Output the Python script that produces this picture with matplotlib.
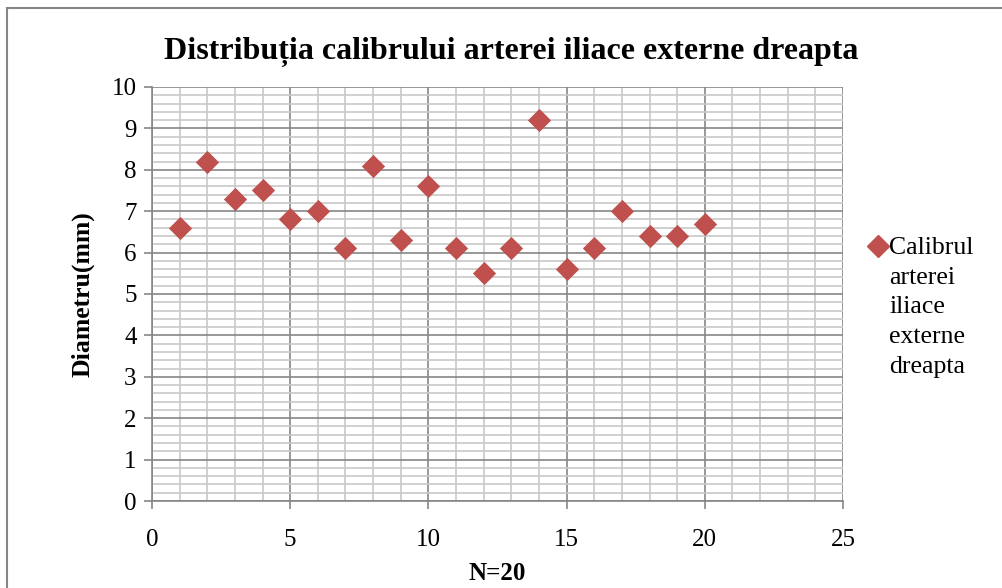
import matplotlib
matplotlib.use("Agg")
import matplotlib.pyplot as plt
from matplotlib.lines import Line2D
from matplotlib.patches import Rectangle
from matplotlib.ticker import MultipleLocator

# data
n_index = [1, 2, 3, 4, 5, 6, 7, 8, 9, 10, 11, 12, 13, 14, 15, 16, 17, 18, 19, 20]
diameter_mm = [6.6, 8.2, 7.3, 7.5, 6.8, 7.0, 6.1, 8.1, 6.3, 7.6,
               6.1, 5.5, 6.1, 9.2, 5.6, 6.1, 7.0, 6.4, 6.4, 6.7]
series_label = "Calibrul\narterei\niliace\nexterne\ndreapta"
title = "Distribuția calibrului arterei iliace externe dreapta"

MARKER_COLOR = "#C0504D"
MAJOR_GRID = "#868686"
MINOR_GRID = "#C8C8C8"

plt.rcParams["font.family"] = ["Liberation Serif", "DejaVu Serif"]

fig = plt.figure(figsize=(10.02, 5.88), dpi=100)
ax = fig.add_axes([152 / 1002, 87 / 588, 691 / 1002, 414 / 588])

ax.scatter(n_index, diameter_mm, marker="D", s=140, color=MARKER_COLOR,
           linewidths=0, zorder=3, clip_on=False)

ax.set_xlim(0, 25)
ax.set_ylim(0, 10)
ax.xaxis.set_major_locator(MultipleLocator(5))
ax.xaxis.set_minor_locator(MultipleLocator(1))
ax.yaxis.set_major_locator(MultipleLocator(1))
ax.yaxis.set_minor_locator(MultipleLocator(0.2))

ax.grid(which="minor", color=MINOR_GRID, linewidth=1.2)
ax.grid(which="major", color=MAJOR_GRID, linewidth=1.2)
ax.set_axisbelow(True)

for side in ["top", "right"]:
    ax.spines[side].set_visible(False)
for side in ["left", "bottom"]:
    ax.spines[side].set_color(MAJOR_GRID)
    ax.spines[side].set_linewidth(1.2)

ax.tick_params(which="major", direction="out", length=6, width=1.2,
               color=MAJOR_GRID, labelsize=18, pad=5)
ax.tick_params(which="minor", length=0)
ax.tick_params(axis="x", pad=14)

ax.set_xlabel("N=20", fontsize=18, fontweight="bold", labelpad=8)
ax.set_ylabel("Diametru(mm)", fontsize=18.5, fontweight="bold", labelpad=12)
# the title is centred on the whole chart box, not on the plot area
ax.set_title(title, fontsize=23, fontweight="bold", pad=20,
             x=(511 - 152) / 691)

# legend drawn by hand so the marker sits on the first line
fig.add_artist(Line2D([878 / 1002], [1 - 246 / 588], marker="D", markersize=11,
                      color=MARKER_COLOR, transform=fig.transFigure))
fig.text(889 / 1002, 1 - 237 / 588, series_label, fontsize=18.5,
         va="top", ha="left", linespacing=1.45)

# outer chart border (runs off the bottom/right of the crop)
fig.add_artist(Rectangle((7 / 1002, -0.1), 1.2, 1 - 8 / 588 + 0.1,
                         transform=fig.transFigure, fill=False,
                         edgecolor="#868686", linewidth=1.5))

fig.savefig("out.png", dpi=100)
